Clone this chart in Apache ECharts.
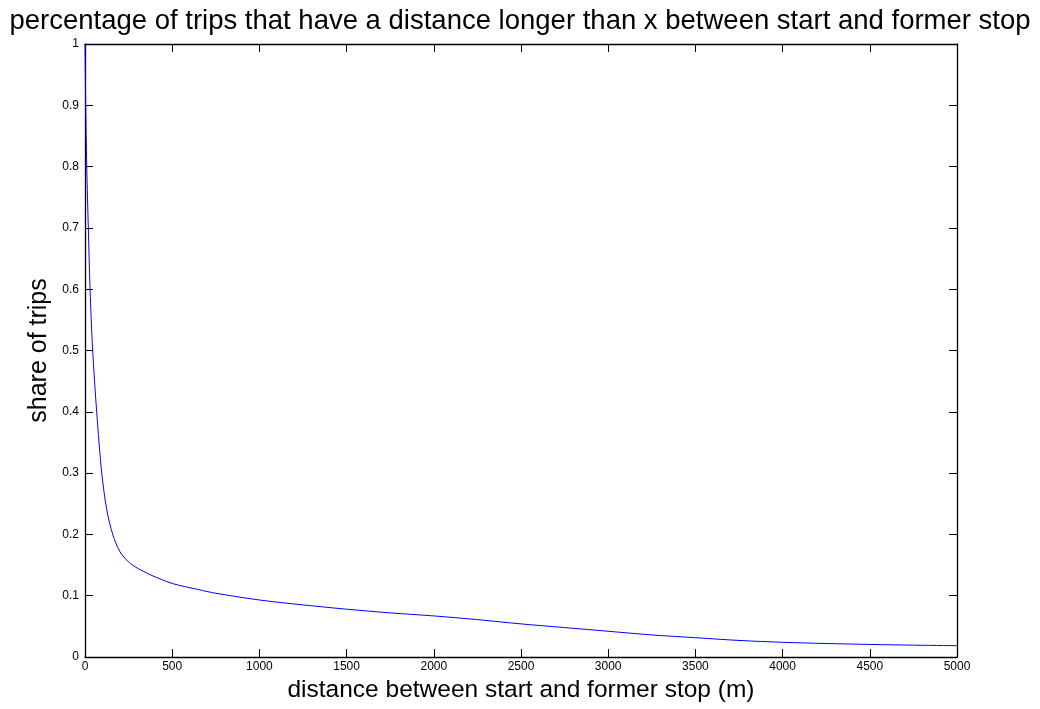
<!DOCTYPE html>
<html>
<head>
<meta charset="utf-8">
<script src="https://cdn.jsdelivr.net/npm/echarts@6/dist/echarts.min.js"></script>
<style>
html,body{margin:0;padding:0;background:#fff;}
#chart{width:1040px;height:709px;}
</style>
</head>
<body>
<div id="chart"></div>
<script>
const titleText = 'percentage of trips that have a distance longer than x between start and former stop';
const xAxisName = 'distance between start and former stop (m)';
const yAxisName = 'share of trips';
const distances = [0, 2, 4, 10, 19, 29, 44, 67, 96, 125, 159, 200, 250, 300, 354, 375, 500, 650, 750, 1000, 1250, 1500, 1750, 2000, 2250, 2500, 2750, 3000, 3250, 3500, 3750, 4000, 4250, 4500, 4750, 5000];
const shares =    [1.0, 0.95, 0.90, 0.80, 0.70, 0.60, 0.50, 0.40, 0.30, 0.24, 0.20, 0.172, 0.155, 0.145, 0.137, 0.134, 0.120, 0.110, 0.104, 0.093, 0.085, 0.078, 0.072, 0.067, 0.061, 0.054, 0.048, 0.042, 0.036, 0.0315, 0.027, 0.024, 0.022, 0.0205, 0.0193, 0.0185];
const xTicks = [0, 500, 1000, 1500, 2000, 2500, 3000, 3500, 4000, 4500, 5000];
const yTicks = [0, 0.1, 0.2, 0.3, 0.4, 0.5, 0.6, 0.7, 0.8, 0.9, 1];

const points = distances.map((d, i) => [d, shares[i]]);
const font = '"Liberation Sans", Arial, Helvetica, sans-serif';
const axisLine = {show: true, onZero: false, lineStyle: {color: '#000', width: 1.3}};
const tickIn = {show: true, inside: true, length: 8, lineStyle: {color: '#000', width: 1}};

const chart = echarts.init(document.getElementById('chart'), null, {renderer: 'canvas'});
chart.setOption({
  animation: false,
  backgroundColor: '#fff',
  title: {
    text: titleText, left: 'center', top: 2,
    textStyle: {fontFamily: font, fontSize: 27.5, fontWeight: 'normal', color: '#000'}
  },
  grid: {left: 85, right: 83, top: 44, bottom: 52, containLabel: false},
  xAxis: [{
    type: 'value', min: xTicks[0], max: xTicks[xTicks.length - 1], interval: 500,
    position: 'bottom',
    name: xAxisName, nameLocation: 'middle', nameGap: 16,
    nameTextStyle: {fontFamily: font, fontSize: 24.5, color: '#000', verticalAlign: 'top'},
    axisLine: axisLine, axisTick: tickIn,
    axisLabel: {fontFamily: font, fontSize: 12, color: '#000', margin: 4, formatter: v => String(v)},
    splitLine: {show: false}
  }, {
    type: 'value', min: xTicks[0], max: xTicks[xTicks.length - 1], interval: 500,
    position: 'top',
    axisLine: axisLine, axisTick: tickIn,
    axisLabel: {show: false}, splitLine: {show: false}
  }],
  yAxis: [{
    type: 'value', min: yTicks[0], max: yTicks[yTicks.length - 1], interval: 0.1,
    position: 'left',
    name: yAxisName, nameLocation: 'middle', nameGap: 31,
    nameTextStyle: {fontFamily: font, fontSize: 25, color: '#000'},
    axisLine: axisLine, axisTick: tickIn,
    axisLabel: {fontFamily: font, fontSize: 12, color: '#000', margin: 6, formatter: v => String(Math.round(v * 10) / 10)},
    splitLine: {show: false}
  }, {
    type: 'value', min: yTicks[0], max: yTicks[yTicks.length - 1], interval: 0.1,
    position: 'right',
    axisLine: axisLine, axisTick: tickIn,
    axisLabel: {show: false}, splitLine: {show: false}
  }],
  series: [{
    type: 'line', data: points, xAxisIndex: 0, yAxisIndex: 0,
    showSymbol: false, smooth: 0.3,
    lineStyle: {color: '#0000ff', width: 1}
  }]
});
</script>
</body>
</html>
